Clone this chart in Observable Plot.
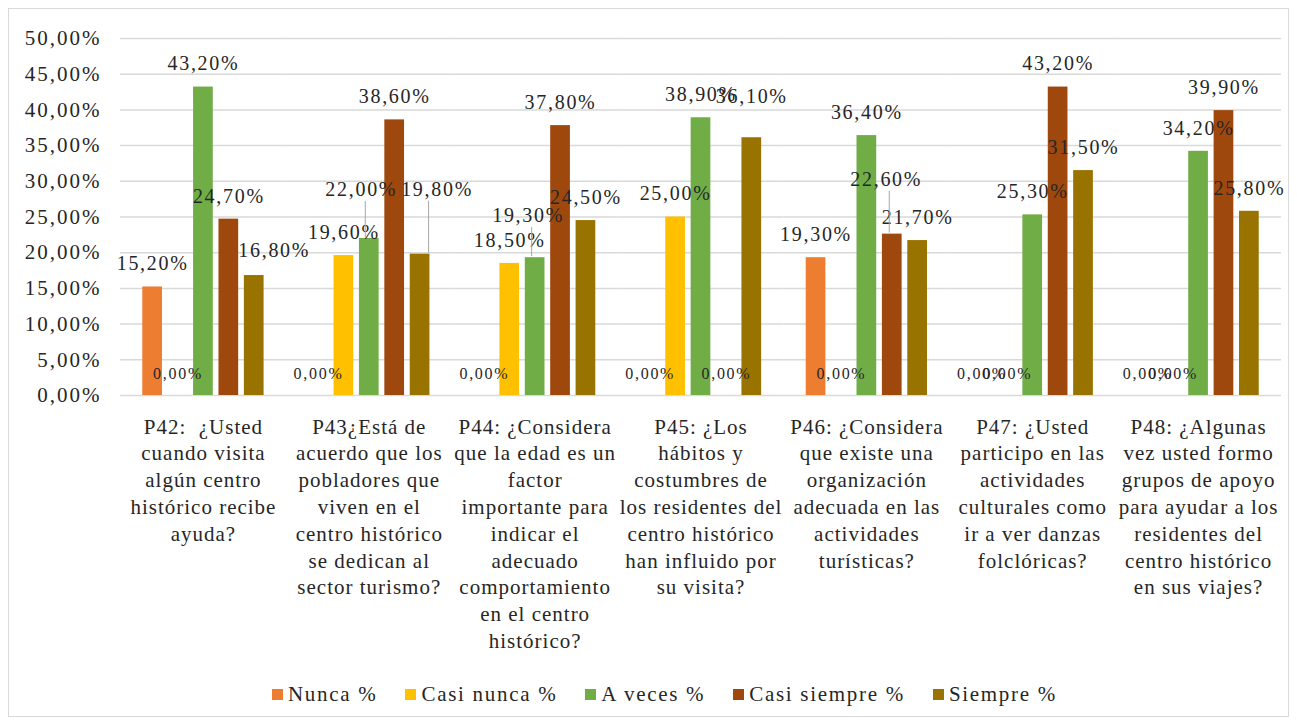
<!DOCTYPE html>
<html>
<head>
<meta charset="utf-8">
<script src="https://cdn.jsdelivr.net/npm/d3@7"></script>
<script src="https://cdn.jsdelivr.net/npm/@observablehq/plot@0.6"></script>
<style>
  html, body { margin: 0; padding: 0; background: #fff; font-family: 'Liberation Serif', serif; }
  #frame { position: absolute; left: 8px; top: 8px; width: 1281px; height: 709px; border: 1px solid #d9d9d9; box-sizing: border-box; background: #fff; }
  #legend { position: absolute; left: 263px; top: 670px; height: 30px; display: flex; align-items: center; font-family: 'Liberation Serif', serif; font-size: 21px; letter-spacing: 1.7px; color: #262626; white-space: nowrap; }
  .item { display: flex; align-items: center; margin-right: 28px; }
  .item:last-child { margin-right: 0; }
  .sw { width: 11px; height: 11px; margin-right: 5px; flex: none; }
</style>
</head>
<body>
<div id="frame"><div id="chart"></div><div id="legend"></div></div>
<script>
const categories = ["P42", "P43", "P44", "P45", "P46", "P47", "P48"];
const categoryLabels = [
  "P42:  ¿Usted\ncuando visita\nalgún centro\nhistórico recibe\nayuda?",
  "P43¿Está de\nacuerdo que los\npobladores que\nviven en el\ncentro histórico\nse dedican al\nsector turismo?",
  "P44: ¿Considera\nque la edad es un\nfactor\nimportante para\nindicar el\nadecuado\ncomportamiento\nen el centro\nhistórico?",
  "P45: ¿Los\nhábitos y\ncostumbres de\nlos residentes del\ncentro histórico\nhan influido por\nsu visita?",
  "P46: ¿Considera\nque existe una\norganización\nadecuada en las\nactividades\nturísticas?",
  "P47: ¿Usted\nparticipo en las\nactividades\nculturales como\nir a ver danzas\nfolclóricas?",
  "P48: ¿Algunas\nvez usted formo\ngrupos de apoyo\npara ayudar a los\nresidentes del\ncentro histórico\nen sus viajes?"
];
const series = ["Nunca %", "Casi nunca %", "A veces %", "Casi siempre %", "Siempre %"];
const nunca       = [15.2, 0, 0, 0, 19.3, 0, 0];
const casiNunca   = [0, 19.6, 18.5, 25.0, 0, 0, 0];
const aVeces      = [43.2, 22.0, 19.3, 38.9, 36.4, 25.3, 34.2];
const casiSiempre = [24.7, 38.6, 37.8, 0, 22.6, 43.2, 39.9];
const siempre     = [16.8, 19.8, 24.5, 36.1, 21.7, 31.5, 25.8];
const colors = ["#ED7D31", "#FFC000", "#70AD47", "#9E480E", "#997300"];
const yTicks = [0, 5, 10, 15, 20, 25, 30, 35, 40, 45, 50];

// label nudges (pixel offsets relative to default label position) - layout only
const labelNudges = [
  {q: "P42", s: "Siempre %", dx: 20, dy: -2, leader: false},
  {q: "P43", s: "A veces %", dx: -8, dy: -26, leader: true},
  {q: "P43", s: "Siempre %", dx: 17, dy: -42, leader: true},
  {q: "P44", s: "A veces %", dx: -7, dy: -19, leader: true},
  {q: "P45", s: "Siempre %", dx: 0, dy: -18, leader: false},
  {q: "P46", s: "Casi siempre %", dx: -6, dy: -32, leader: true}
];

const valuesBySeries = [nunca, casiNunca, aVeces, casiSiempre, siempre];
const data = [];
categories.forEach((q, i) => series.forEach((s, j) => data.push({q, s, v: valuesBySeries[j][i]})));
const fmt = v => v.toFixed(2).replace(".", ",") + "%";
const isNudged = d => labelNudges.some(n => n.q === d.q && n.s === d.s);
const labelMap = Object.fromEntries(categories.map((c, i) => [c, categoryLabels[i]]));

const pxPerUnit = 357 / 50;
const ink = "#262626";

const nudgeMarks = labelNudges.flatMap(n => {
  const d = data.filter(e => e.q === n.q && e.s === n.s);
  const marks = [Plot.text(d, {fx: "q", x: "s", y: "v", text: e => fmt(e.v), dx: n.dx, dy: -23 + n.dy, fontSize: 20, fill: ink})];
  if (n.leader) {
    marks.push(Plot.ruleX(d, {fx: "q", x: "s", y1: e => e.v + 1 / pxPerUnit, y2: e => e.v + (23 - n.dy - 12) / pxPerUnit, dx: n.dx / 2, stroke: "#a6a6a6", strokeWidth: 1}));
  }
  return marks;
});

const chart = Plot.plot({
  width: 1279,
  height: 665,
  marginLeft: 111,
  marginRight: 7,
  marginTop: 29,
  marginBottom: 279,
  style: {fontFamily: "'Liberation Serif', serif", fontSize: "21px", color: ink, background: "transparent"},
  fx: {domain: categories, padding: 0, round: false},
  x: {domain: series, paddingInner: 0.224, paddingOuter: 0.877, round: false, axis: null},
  y: {domain: [0, 50]},
  color: {domain: series, range: colors},
  marks: [
    Plot.gridY(yTicks, {stroke: "#d9d9d9", strokeOpacity: 1, strokeWidth: 1.5}),
    Plot.axisY(yTicks, {tickSize: 0, tickPadding: 19, fontSize: 21, tickFormat: fmt, fill: ink, label: null}),
    Plot.axisFx({anchor: "bottom", tickSize: 0, tickPadding: 19, fontSize: 21, lineHeight: 1.276, tickFormat: d => labelMap[d], fill: ink, label: null}),
    Plot.barY(data, {fx: "q", x: "s", y: "v", fill: "s"}),
    Plot.text(data.filter(d => d.v > 0 && !isNudged(d)), {fx: "q", x: "s", y: "v", text: d => fmt(d.v), dy: -23, fontSize: 20, fill: ink}),
    Plot.text(data.filter(d => d.v === 0), {fx: "q", x: "s", y: "v", text: d => fmt(d.v), dy: -22, fontSize: 16, fill: ink}),
    ...nudgeMarks
  ]
});
document.getElementById("chart").appendChild(chart);

// letter spacing per text group (the reference glyphs are slightly wide)
chart.querySelectorAll("g[aria-label]").forEach(g => {
  const label = g.getAttribute("aria-label");
  const fs = g.getAttribute("font-size");
  let ls = null;
  if (label.startsWith("y-axis tick label")) ls = "2px";
  else if (label.startsWith("fx-axis tick label")) ls = "1px";
  else if (label === "text") ls = fs === "16" ? "1.5px" : "1.7px";
  if (ls) g.style.letterSpacing = ls;
});

const legend = document.getElementById("legend");
series.forEach((s, i) => {
  const item = document.createElement("div");
  item.className = "item";
  const sw = document.createElement("span");
  sw.className = "sw";
  sw.style.background = colors[i];
  const t = document.createElement("span");
  t.textContent = s;
  item.appendChild(sw);
  item.appendChild(t);
  legend.appendChild(item);
});
</script>
</body>
</html>
